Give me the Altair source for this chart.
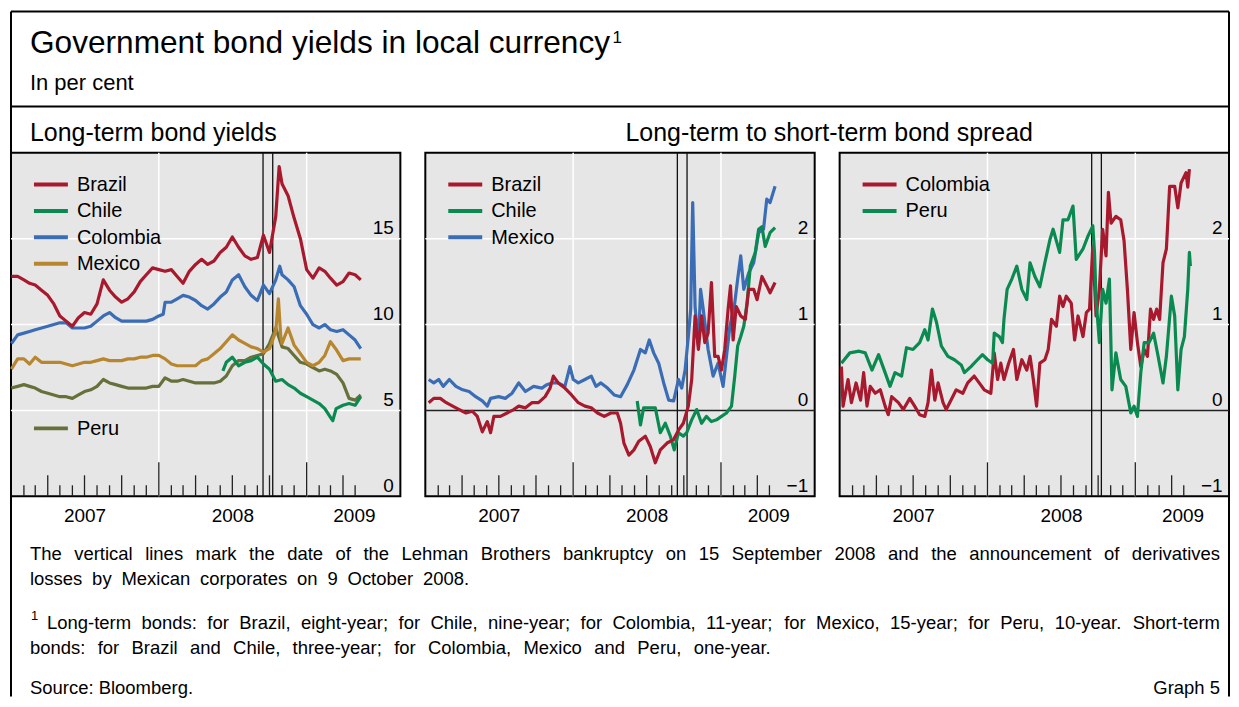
import altair as alt
import pandas as pd

FONT = "Liberation Sans"
RED = "#A8192E"
GREEN = "#0A8A50"
BLUE = "#3A6DB5"
GOLD = "#B8862E"
OLIVE = "#66703A"
GREY = "#E6E6E6"

# ---------------------------------------------------------------
# Data: t = months since 1 January 2007, values in per cent
# ---------------------------------------------------------------
# Panel 1: long-term bond yields
BR_LT_T = [0, 0.5, 1, 1.5, 2, 2.5, 3, 3.5, 4, 4.5, 5, 5.5, 6, 6.5, 7, 7.5, 8, 8.5, 9, 9.5, 10, 10.5, 11, 11.5, 12, 12.5, 13, 13.5, 14, 14.5, 15, 15.5, 16, 16.5, 17, 17.5, 18, 18.5, 19, 19.5, 20, 20.5, 21, 21.5, 21.77, 22, 22.5, 23, 23.5, 24, 24.5, 25, 25.5, 26, 26.5, 27, 27.5, 28, 28.45]
BR_LT_V = [12.8, 12.8, 12.6, 12.4, 12.3, 12.0, 11.7, 11.2, 10.5, 10.2, 9.9, 10.4, 10.7, 10.6, 11.2, 12.6, 12.0, 11.6, 11.3, 11.5, 11.9, 12.5, 12.9, 13.3, 13.2, 13.1, 13.2, 12.8, 12.4, 13.1, 13.5, 13.8, 13.5, 13.7, 14.2, 14.5, 15.1, 14.5, 14.0, 13.8, 13.9, 15.2, 14.2, 16.3, 19.2, 18.2, 17.5, 16.2, 15.0, 13.2, 12.7, 13.3, 13.1, 12.7, 12.3, 12.5, 13.0, 12.9, 12.6]

CO_LT_T = [0, 0.5, 1, 1.5, 2, 2.5, 3, 3.5, 4, 4.5, 5, 5.5, 6, 6.5, 7, 7.5, 8, 8.5, 9, 9.5, 10, 10.5, 11, 11.5, 12, 12.35, 12.5, 13, 13.5, 14, 14.5, 15, 15.5, 16, 16.5, 17, 17.5, 18, 18.5, 19, 19.5, 20, 20.5, 21, 21.5, 21.82, 22, 22.5, 23, 23.5, 24, 24.5, 25, 25.5, 26, 26.5, 27, 27.5, 28, 28.45]
CO_LT_V = [8.9, 9.4, 9.5, 9.6, 9.7, 9.8, 9.9, 10.0, 10.1, 10.1, 9.8, 9.8, 9.8, 9.9, 10.2, 10.5, 10.7, 10.4, 10.2, 10.2, 10.2, 10.2, 10.2, 10.3, 10.5, 10.6, 11.3, 11.3, 11.5, 11.7, 11.6, 11.4, 11.1, 10.9, 11.2, 11.6, 11.9, 12.6, 12.9, 12.2, 11.7, 11.4, 12.3, 11.8, 12.6, 13.4, 12.9, 12.6, 12.2, 11.1, 10.6, 10.0, 9.8, 10.0, 9.7, 9.6, 9.7, 9.4, 9.1, 8.6]

MX_LT_T = [0, 0.5, 1, 1.5, 2, 2.5, 3, 3.5, 4, 4.5, 5, 5.5, 6, 6.5, 7, 7.5, 8, 8.5, 9, 9.5, 10, 10.5, 11, 11.5, 12, 12.5, 13, 13.5, 14, 14.5, 15, 15.5, 16, 16.5, 17, 17.5, 18, 18.5, 19, 19.5, 20, 20.5, 21, 21.5, 21.71, 21.9, 22, 22.5, 23, 23.5, 24, 24.5, 25, 25.5, 26, 26.5, 27, 27.5, 28, 28.45]
MX_LT_V = [7.4, 8.0, 8.0, 7.7, 8.1, 7.8, 7.8, 7.8, 7.8, 7.7, 7.6, 7.7, 7.8, 7.8, 7.9, 8.0, 7.9, 7.9, 7.9, 8.0, 8.0, 8.1, 8.1, 8.2, 8.2, 8.0, 7.7, 7.6, 7.6, 7.6, 7.6, 7.9, 8.0, 8.3, 8.6, 9.0, 9.4, 9.1, 8.9, 8.7, 8.6, 8.4, 8.6, 9.6, 11.5, 9.3, 8.9, 9.8, 8.8, 8.3, 7.8, 7.6, 7.8, 8.2, 9.0, 8.5, 7.9, 8.0, 8.0, 8.0]

PE_LT_T = [0, 0.5, 1, 1.5, 2, 2.5, 3, 3.5, 4, 4.5, 5, 5.5, 6, 6.5, 7, 7.5, 8, 8.5, 9, 9.5, 10, 10.5, 11, 11.5, 12, 12.5, 13, 13.5, 14, 14.5, 15, 15.5, 16, 16.5, 17, 17.5, 18, 18.5, 19, 19.5, 20, 20.5, 21, 21.5, 22, 22.5, 23, 23.5, 24, 24.5, 25, 25.5, 26, 26.5, 27, 27.5, 28, 28.45]
PE_LT_V = [6.3, 6.4, 6.5, 6.4, 6.3, 6.1, 6.0, 5.9, 5.8, 5.8, 5.7, 5.9, 6.1, 6.2, 6.4, 6.8, 6.6, 6.5, 6.4, 6.3, 6.3, 6.3, 6.3, 6.4, 6.4, 6.9, 6.7, 6.7, 6.8, 6.7, 6.6, 6.6, 6.6, 6.6, 6.7, 7.0, 7.6, 7.9, 7.9, 8.1, 8.2, 8.3, 8.9, 9.8, 8.7, 8.6, 8.2, 7.8, 7.7, 7.5, 7.3, 7.4, 7.3, 7.1, 6.6, 5.7, 5.6, 5.9]

CL_LT_T = [17.22, 17.5, 18, 18.5, 19, 19.5, 20, 20.5, 21, 21.5, 22, 22.5, 23, 23.5, 24, 24.5, 25, 25.5, 26, 26.18, 26.45, 27, 27.5, 28, 28.45]
CL_LT_V = [7.3, 7.8, 8.1, 7.6, 7.8, 7.9, 8.1, 7.7, 7.4, 6.7, 6.8, 6.5, 6.3, 6.0, 5.8, 5.6, 5.4, 5.1, 4.6, 4.4, 5.1, 5.3, 5.4, 5.3, 5.8]

# Panel 2: long-term minus short-term spread (Brazil, Chile, Mexico)
BR_SP_T = [0.24, 0.64, 1.18, 1.71, 2.25, 2.78, 3.32, 3.85, 4.25, 4.65, 5.05, 5.32, 5.59, 6.12, 6.66, 7.19, 7.59, 8.13, 8.66, 9.2, 9.73, 10.13, 10.4, 10.8, 11.34, 11.87, 12.41, 12.94, 13.48, 14.01, 14.55, 15.08, 15.61, 15.88, 16.15, 16.55, 16.95, 17.35, 17.89, 18.29, 18.69, 19.09, 19.63, 20.16, 20.56, 20.96, 21.36, 21.63, 21.9, 22.17, 22.43, 22.7, 22.97, 23.24, 23.5, 23.77, 24.04, 24.3, 24.57, 24.76, 24.97, 25.24, 25.64, 26.04, 26.31, 26.71, 26.98, 27.38, 27.78, 28.05, 28.45]
BR_SP_V = [0.09, 0.14, 0.14, 0.09, 0.05, 0.01, -0.03, -0.01, -0.07, -0.25, -0.13, -0.26, -0.07, -0.07, -0.03, 0.01, 0.05, 0.03, 0.09, 0.09, 0.16, 0.26, 0.40, 0.32, 0.26, 0.18, 0.09, 0.05, 0.03, -0.03, -0.07, -0.03, -0.03, -0.15, -0.38, -0.52, -0.46, -0.36, -0.30, -0.42, -0.61, -0.46, -0.38, -0.34, -0.23, -0.15, 0.05, 0.36, 1.10, 0.71, 1.10, 0.79, 0.90, 1.49, 0.63, 0.63, 0.47, 0.71, 1.18, 1.45, 0.82, 1.21, 1.10, 1.06, 1.41, 1.41, 1.29, 1.56, 1.45, 1.37, 1.49]

MX_SP_T = [0.24, 0.64, 1.04, 1.44, 1.98, 2.51, 3.05, 3.58, 4.12, 4.65, 5.05, 5.32, 5.99, 6.52, 7.06, 7.59, 8.13, 8.8, 9.47, 9.87, 10.27, 10.8, 11.34, 11.74, 12.01, 12.41, 12.94, 13.48, 13.88, 14.28, 14.81, 15.35, 15.88, 16.42, 16.95, 17.49, 17.89, 18.21, 18.56, 18.96, 19.36, 19.76, 20.16, 20.56, 20.83, 21.1, 21.36, 21.55, 21.71, 21.9, 22.17, 22.35, 22.57, 22.97, 23.37, 23.77, 24.17, 24.44, 24.71, 25.11, 25.37, 25.64, 25.91, 26.31, 26.71, 27.11, 27.51, 27.78, 28.05, 28.45]
MX_SP_V = [0.36, 0.32, 0.36, 0.28, 0.36, 0.28, 0.24, 0.22, 0.16, 0.11, 0.05, 0.14, 0.16, 0.14, 0.20, 0.32, 0.22, 0.28, 0.26, 0.30, 0.32, 0.32, 0.28, 0.51, 0.36, 0.32, 0.36, 0.40, 0.28, 0.32, 0.26, 0.18, 0.16, 0.30, 0.47, 0.71, 0.67, 0.82, 0.67, 0.55, 0.32, 0.12, 0.11, 0.36, 0.26, 0.47, 0.86, 1.18, 2.42, 1.21, 0.75, 1.41, 1.18, 0.71, 0.40, 0.55, 0.28, 0.63, 0.98, 1.25, 1.53, 1.80, 1.41, 1.60, 1.72, 2.07, 2.11, 2.46, 2.42, 2.61]

CL_SP_T = [17.22, 17.49, 17.75, 18.29, 18.69, 19.09, 19.49, 19.89, 20.21, 20.56, 20.96, 21.23, 21.63, 22.03, 22.43, 22.83, 23.24, 23.64, 24.04, 24.44, 24.84, 25.11, 25.37, 25.64, 25.91, 26.18, 26.44, 26.84, 27.11, 27.38, 27.65, 28.05, 28.45]
CL_SP_V = [0.11, -0.17, 0.03, 0.03, 0.03, -0.26, -0.15, -0.30, -0.46, -0.26, -0.30, -0.26, -0.11, 0.01, -0.15, -0.07, -0.13, -0.11, -0.07, -0.03, 0.05, 0.40, 0.75, 0.86, 0.98, 1.25, 1.68, 1.84, 2.11, 2.14, 1.91, 2.07, 2.13]

# Panel 3: spread (Colombia, Peru)
CO_SP_T = [0.11, 0.24, 0.64, 0.91, 1.31, 1.71, 1.98, 2.25, 2.51, 2.91, 3.32, 3.72, 3.98, 4.25, 4.79, 5.19, 5.72, 6.12, 6.52, 6.93, 7.19, 7.46, 7.73, 7.99, 8.40, 8.66, 9.06, 9.47, 10.0, 10.4, 10.94, 11.34, 11.74, 12.27, 12.54, 12.81, 13.07, 13.34, 13.74, 14.14, 14.41, 14.81, 15.21, 15.48, 15.75, 16.02, 16.28, 16.68, 16.95, 17.22, 17.62, 17.89, 18.16, 18.42, 18.82, 19.09, 19.36, 19.76, 20.03, 20.29, 20.56, 20.83, 21.10, 21.36, 21.63, 21.82, 22.03, 22.43, 22.83, 23.10, 23.37, 23.64, 23.90, 24.17, 24.44, 24.71, 24.97, 25.24, 25.51, 25.78, 26.04, 26.31, 26.58, 26.84, 27.25, 27.51, 27.78, 28.18, 28.32, 28.45]
CO_SP_V = [0.51, 0.05, 0.36, 0.09, 0.32, 0.12, 0.44, 0.05, 0.28, 0.20, 0.24, 0.05, -0.05, 0.16, 0.09, 0.01, 0.14, 0.05, -0.05, -0.07, 0.09, 0.47, 0.12, 0.32, 0.09, 0.01, 0.12, 0.24, 0.20, 0.32, 0.40, 0.32, 0.24, 0.20, 0.67, 0.36, 0.55, 0.36, 0.55, 0.71, 0.36, 0.59, 0.47, 0.63, 0.36, 0.05, 0.55, 0.59, 0.71, 1.06, 0.98, 1.33, 1.21, 1.33, 1.25, 0.82, 1.10, 0.86, 1.14, 1.18, 1.91, 1.10, 1.41, 2.11, 1.80, 2.54, 2.18, 2.26, 2.22, 1.98, 1.41, 0.71, 1.14, 0.79, 0.51, 0.71, 0.63, 1.18, 1.06, 1.18, 1.06, 1.72, 1.88, 2.61, 2.61, 2.36, 2.65, 2.77, 2.60, 2.81]

PE_SP_T = [0.11, 0.78, 1.58, 2.11, 2.65, 3.18, 3.72, 4.12, 4.52, 5.05, 5.45, 5.99, 6.52, 6.93, 7.19, 7.54, 7.86, 8.26, 8.80, 9.33, 9.87, 10.13, 10.67, 11.20, 11.60, 12.01, 12.41, 12.54, 12.94, 13.21, 13.34, 13.61, 14.01, 14.41, 14.81, 15.21, 15.48, 15.88, 16.28, 16.68, 17.09, 17.35, 17.89, 18.16, 18.56, 18.96, 19.22, 19.76, 20.16, 20.56, 20.70, 20.83, 21.10, 21.36, 21.63, 21.90, 22.11, 22.43, 22.83, 23.24, 23.64, 23.90, 24.17, 24.44, 24.71, 25.11, 25.51, 25.91, 26.31, 26.58, 26.98, 27.25, 27.51, 27.78, 28.05, 28.32, 28.45, 28.53]
PE_SP_V = [0.55, 0.67, 0.69, 0.67, 0.47, 0.65, 0.44, 0.28, 0.44, 0.40, 0.73, 0.71, 0.79, 0.94, 0.82, 1.18, 1.03, 0.75, 0.63, 0.59, 0.53, 0.44, 0.51, 0.59, 0.65, 0.59, 0.55, 0.90, 0.86, 0.79, 1.06, 1.41, 1.53, 1.68, 1.41, 1.29, 1.72, 1.56, 1.44, 1.72, 1.99, 2.11, 1.84, 2.22, 2.22, 2.38, 1.76, 1.88, 2.03, 2.15, 1.84, 1.29, 0.79, 1.41, 1.25, 1.53, 0.24, 0.67, 0.36, 0.28, -0.03, 0.05, -0.07, 0.44, 0.79, 0.79, 0.90, 0.63, 0.32, 0.63, 1.33, 1.10, 0.24, 0.71, 0.86, 1.41, 1.84, 1.68]

EVENT_DATES = ["2008-09-15", "2008-10-09"]   # Lehman bankruptcy, Mexican derivative losses

TITLE = "Government bond yields in local currency"
SUBTITLE = "In per cent"
PANEL1_TITLE = "Long-term bond yields"
PANEL23_TITLE = "Long-term to short-term bond spread"
FOOT1 = ("The vertical lines mark the date of the Lehman Brothers bankruptcy on 15 September 2008 "
         "and the announcement of derivatives")
FOOT2 = "losses by Mexican corporates on 9 October 2008."
FOOT3 = ("Long-term bonds: for Brazil, eight-year; for Chile, nine-year; for Colombia, 11-year; "
         "for Mexico, 15-year; for Peru, 10-year. Short-term")
FOOT4 = "bonds: for Brazil and Chile, three-year; for Colombia, Mexico and Peru, one-year."
SOURCE = "Source: Bloomberg."
GRAPH_NO = "Graph 5"


# ---------------------------------------------------------------
def to_dates(ts):
    out = []
    for t in ts:
        m = int(t // 1)
        frac = t - m
        start = pd.Timestamp(year=2007 + m // 12, month=m % 12 + 1, day=1)
        nxt = start + pd.DateOffset(months=1)
        out.append((start + (nxt - start) * frac).strftime("%Y-%m-%dT%H:%M:%S"))
    return out


def long_frame(items):
    rows = []
    for name, ts, vs in items:
        assert len(ts) == len(vs), name
        for d, v in zip(to_dates(ts), vs):
            rows.append({"date": d, "series": name, "value": v})
    return pd.DataFrame(rows)


W, H = 390, 344
GAP = 25

XSCALE = alt.Scale(domain=[alt.DateTime(year=2006, month=12, date=31),
                           alt.DateTime(year=2009, month=8, date=21)], nice=False)
YEAR_LABELS = [alt.DateTime(year=2007, month=7, date=1),
               alt.DateTime(year=2008, month=7, date=1),
               alt.DateTime(year=2009, month=4, date=28)]
XAXIS = alt.Axis(values=YEAR_LABELS, format="%Y", title=None, ticks=False, domain=False,
                 grid=False, labelFontSize=19, labelPadding=25, labelBaseline="alphabetic",
                 labelFlush=False, labelOverlap=False, labelColor="black", labelAlign="center")

TICK_MONTHS = pd.date_range("2007-02-01", "2009-05-01", freq="MS")
MINOR = [d.strftime("%Y-%m-%dT00:00:00") for d in TICK_MONTHS if d.month not in (1, 4, 7, 10)]
MEDIUM = [d.strftime("%Y-%m-%dT00:00:00") for d in TICK_MONTHS if d.month in (4, 7, 10)]
MAJOR = [d.strftime("%Y-%m-%dT00:00:00") for d in TICK_MONTHS if d.month == 1]
YEAR_GRID = ["2008-01-01T00:00:00", "2009-01-01T00:00:00"]


def panel(df, names, colors, ydom, yvals, grid_vals, legend_rows, zero_line):
    cs = alt.Scale(domain=names, range=colors)
    yscale = alt.Scale(domain=ydom, nice=False, zero=False)
    yaxis = alt.Axis(orient="right", values=yvals, title=None, ticks=False, domain=False,
                     grid=False, labelFontSize=19, labelPadding=-7, labelAlign="right",
                     labelBaseline="alphabetic", labelOffset=-5, labelColor="black", format="d")

    def X():
        return alt.X("date:T", scale=XSCALE, axis=XAXIS)

    def Y():
        return alt.Y("value:Q", scale=yscale, axis=yaxis)

    layers = []
    layers.append(alt.Chart(pd.DataFrame({"value": grid_vals}))
                  .mark_rule(color="white", strokeWidth=1.5).encode(y=Y()))
    layers.append(alt.Chart(pd.DataFrame({"date": YEAR_GRID}))
                  .mark_rule(color="white", strokeWidth=1.5).encode(x=X()))
    if zero_line:
        layers.append(alt.Chart(pd.DataFrame({"value": [0]}))
                      .mark_rule(color="#222222", strokeWidth=1.5).encode(y=Y()))
    for dates, ln in ((MINOR, 11), (MEDIUM, 21), (MAJOR, 34)):
        layers.append(alt.Chart(pd.DataFrame({"date": dates}))
                      .mark_rule(color="#222222", strokeWidth=1.3)
                      .encode(x=X(), y=alt.value(H), y2=alt.value(H - ln)))
    layers.append(alt.Chart(pd.DataFrame({"date": EVENT_DATES}))
                  .mark_rule(color="#111111", strokeWidth=1.3).encode(x=X()))
    layers.append(alt.Chart(df).mark_line(strokeWidth=3.2, strokeJoin="round")
                  .encode(x=X(), y=Y(),
                          color=alt.Color("series:N", scale=cs, legend=None)))
    for name, ly in legend_rows:
        d = pd.DataFrame({"series": [name]})
        layers.append(alt.Chart(d).mark_rule(strokeWidth=4)
                      .encode(x=alt.value(23), x2=alt.value(57), y=alt.value(ly),
                              color=alt.Color("series:N", scale=cs, legend=None)))
        layers.append(alt.Chart(d).mark_text(align="left", baseline="middle", fontSize=20,
                                             color="black")
                      .encode(x=alt.value(66), y=alt.value(ly + 0.5), text="series:N"))
    return alt.layer(*layers).properties(
        width=W, height=H,
        view=alt.ViewBackground(fill=GREY, stroke="black", strokeWidth=2))


df1 = long_frame([("Peru", PE_LT_T, PE_LT_V), ("Mexico", MX_LT_T, MX_LT_V),
                  ("Chile", CL_LT_T, CL_LT_V), ("Colombia", CO_LT_T, CO_LT_V),
                  ("Brazil", BR_LT_T, BR_LT_V)])
df2 = long_frame([("Mexico", MX_SP_T, MX_SP_V), ("Chile", CL_SP_T, CL_SP_V),
                  ("Brazil", BR_SP_T, BR_SP_V)])
df3 = long_frame([("Colombia", CO_SP_T, CO_SP_V), ("Peru", PE_SP_T, PE_SP_V)])

LEG = [31.8, 58.2, 84.6, 111.0]
p1 = panel(df1, ["Brazil", "Chile", "Colombia", "Mexico", "Peru"],
           [RED, GREEN, BLUE, GOLD, OLIVE], [0, 20], [0, 5, 10, 15], [5, 10, 15],
           [("Brazil", LEG[0]), ("Chile", LEG[1]), ("Colombia", LEG[2]),
            ("Mexico", LEG[3]), ("Peru", 276.0)], False)
p2 = panel(df2, ["Brazil", "Chile", "Mexico"], [RED, GREEN, BLUE], [-1, 3],
           [-1, 0, 1, 2], [1, 2],
           [("Brazil", LEG[0]), ("Chile", LEG[1]), ("Mexico", LEG[2])], True)
p3 = panel(df3, ["Colombia", "Peru"], [RED, GREEN], [-1, 3], [-1, 0, 1, 2], [1, 2],
           [("Colombia", LEG[0]), ("Peru", LEG[1])], True)

row = alt.hconcat(p1, p2, p3, spacing=GAP, bounds="flush").resolve_scale(
    x="independent", y="independent", color="independent")

# ---------------------------------------------------------------
# Header / footer texts and the outer frame (pixel layout of annotations)
# ---------------------------------------------------------------
TOTAL_W = 3 * W + 2 * GAP
HDR_H = 95
FRAME_BOTTOM = 686

ARIAL = {" ": 278, ",": 278, ".": 278, ";": 278, ":": 278, "-": 333, "'": 191,
         "0": 556, "1": 556, "2": 556, "3": 556, "4": 556, "5": 556, "6": 556,
         "7": 556, "8": 556, "9": 556,
         "A": 667, "B": 667, "C": 722, "D": 722, "E": 667, "F": 611, "G": 778, "H": 722,
         "I": 278, "J": 500, "K": 667, "L": 556, "M": 833, "N": 722, "O": 778, "P": 667,
         "Q": 778, "R": 722, "S": 667, "T": 611, "U": 722, "V": 667, "W": 944, "X": 667,
         "Y": 667, "Z": 611,
         "a": 556, "b": 556, "c": 500, "d": 556, "e": 556, "f": 278, "g": 556, "h": 556,
         "i": 222, "j": 222, "k": 500, "l": 222, "m": 833, "n": 556, "o": 556, "p": 556,
         "q": 556, "r": 333, "s": 500, "t": 278, "u": 556, "v": 500, "w": 722, "x": 500,
         "y": 500, "z": 500}


def text_width(s, fs):
    return sum(ARIAL.get(c, 556) for c in s) * fs / 1000.0


def justify(line, x0, x1, y, fs):
    words = line.split(" ")
    widths = [text_width(w, fs) for w in words]
    gap = (x1 - x0 - sum(widths)) / (len(words) - 1)
    rows, x = [], x0
    for w, wd in zip(words, widths):
        rows.append({"x": x, "y": y, "text": w, "fs": fs})
        x += wd + gap
    return rows


FS_FOOT = 18.5
LEFT = 19
RIGHT_EDGE = TOTAL_W - 9
left_rows = [
    {"x": LEFT, "y": 42, "text": TITLE, "fs": 31.7},
    {"x": LEFT + text_width(TITLE, 31.7) + 2, "y": 31, "text": "1", "fs": 17},
    {"x": LEFT, "y": 79, "text": SUBTITLE, "fs": 22},
    {"x": LEFT, "y": 130, "text": PANEL1_TITLE, "fs": 25},
    {"x": LEFT + 1, "y": 609, "text": "1", "fs": 13},
    {"x": LEFT, "y": 684, "text": SOURCE, "fs": FS_FOOT},
]
# paragraph lines with the word spacing of the original layout
left_rows += justify(FOOT1, LEFT, RIGHT_EDGE, 549, FS_FOOT)
left_rows += justify(FOOT2, LEFT, 459, 574, FS_FOOT)
left_rows += justify(FOOT3, LEFT + 17, RIGHT_EDGE, 618, FS_FOOT)
left_rows += justify(FOOT4, LEFT, 762, 643, FS_FOOT)
center_rows = [{"x": W + GAP + (2 * W + GAP) / 2.0 + 2, "y": 130, "text": PANEL23_TITLE, "fs": 25}]
right_rows = [{"x": RIGHT_EDGE, "y": 684, "text": GRAPH_NO, "fs": FS_FOOT}]
frame_rows = [
    {"x": 0, "y": 0, "x2": TOTAL_W, "y2": 0},
    {"x": 0, "y": HDR_H, "x2": TOTAL_W, "y2": HDR_H},
    {"x": 0, "y": 0, "x2": 0, "y2": FRAME_BOTTOM},
    {"x": TOTAL_W, "y": 0, "x2": TOTAL_W, "y2": FRAME_BOTTOM},
]


def text_layer(rows, align):
    return alt.Chart(pd.DataFrame(rows)).mark_text(
        align=align, baseline="alphabetic", color="black").encode(
        x=alt.X("x:Q", scale=None, axis=None),
        y=alt.Y("y:Q", scale=None, axis=None),
        text="text:N",
        size=alt.Size("fs:Q", scale=None, legend=None))


frame = alt.Chart(pd.DataFrame(frame_rows)).mark_rule(color="black", strokeWidth=2).encode(
    x=alt.X("x:Q", scale=None, axis=None), y=alt.Y("y:Q", scale=None, axis=None),
    x2="x2:Q", y2="y2:Q")

header = alt.layer(frame, text_layer(left_rows, "left"), text_layer(center_rows, "center"),
                   text_layer(right_rows, "right")).properties(width=TOTAL_W, height=HDR_H)

chart = alt.vconcat(header, row, spacing=46.5, bounds="flush").resolve_scale(
    x="independent", y="independent", color="independent", size="independent"
).properties(
    padding={"left": 0, "top": 2, "right": 0, "bottom": 0}
).configure(font=FONT).configure_view(stroke=None).configure_axis(labelFont=FONT)

chart.save("out.html", embed_options={"renderer": "svg", "actions": False})
